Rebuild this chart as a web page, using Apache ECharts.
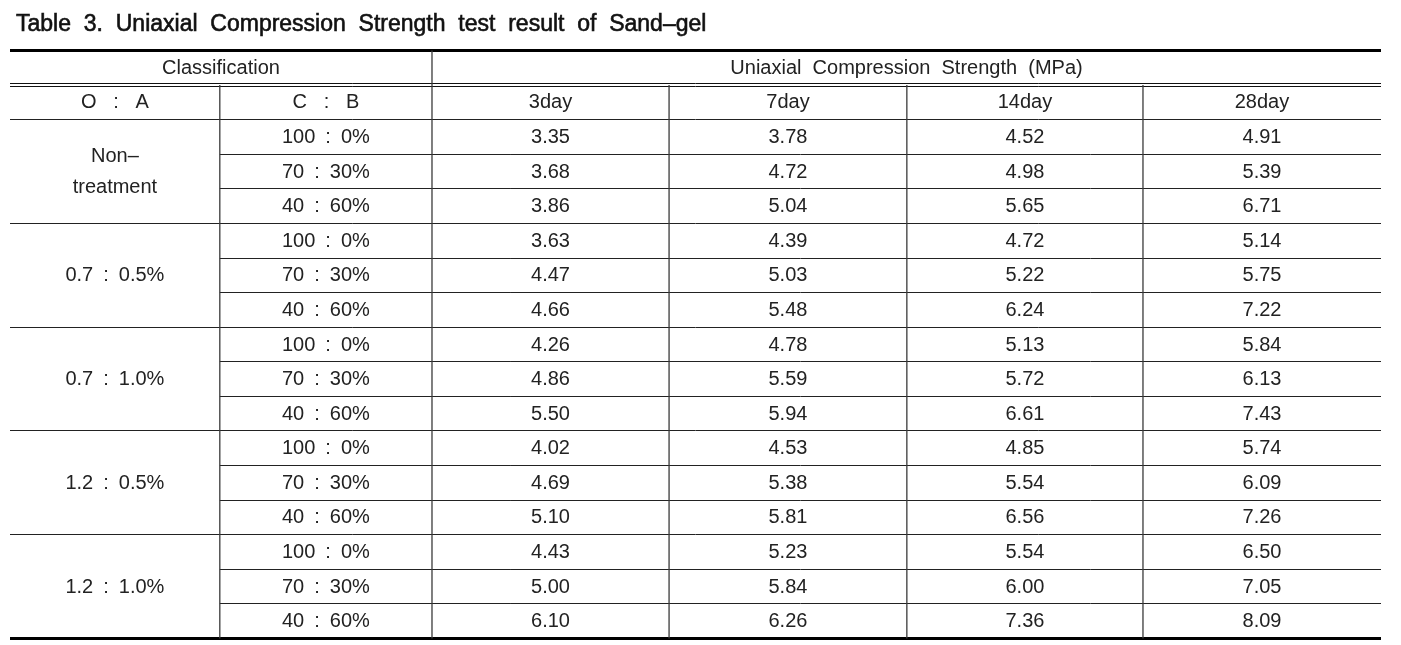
<!DOCTYPE html>
<html>
<head>
<meta charset="utf-8">
<script src="https://cdn.jsdelivr.net/npm/echarts@6/dist/echarts.min.js"></script>
<style>html,body{margin:0;padding:0;background:#fff}#chart{width:1401px;height:645px}</style>
</head>
<body>
<div id="chart"></div>
<script>
// ---------- data ----------
const tableTitle = 'Table  3.  Uniaxial  Compression  Strength  test  result  of  Sand–gel';
const headerTop = ['Classification', 'Uniaxial  Compression  Strength  (MPa)'];
const headerSub = ['O   :   A', 'C   :   B', '3day', '7day', '14day', '28day'];
const groups = ['Non–\ntreatment', '0.7\u2002:\u20020.5%', '0.7\u2002:\u20021.0%', '1.2\u2002:\u20020.5%', '1.2\u2002:\u20021.0%'];
const ratios = ['100\u2002:\u20020%', '70\u2002:\u200230%', '40\u2002:\u200260%'];
const day3  = [3.35, 3.68, 3.86, 3.63, 4.47, 4.66, 4.26, 4.86, 5.50, 4.02, 4.69, 5.10, 4.43, 5.00, 6.10];
const day7  = [3.78, 4.72, 5.04, 4.39, 5.03, 5.48, 4.78, 5.59, 5.94, 4.53, 5.38, 5.81, 5.23, 5.84, 6.26];
const day14 = [4.52, 4.98, 5.65, 4.72, 5.22, 6.24, 5.13, 5.72, 6.61, 4.85, 5.54, 6.56, 5.54, 6.00, 7.36];
const day28 = [4.91, 5.39, 6.71, 5.14, 5.75, 7.22, 5.84, 6.13, 7.43, 5.74, 6.09, 7.26, 6.50, 7.05, 8.09];

// ---------- layout (style only) ----------
const COL_WEIGHTS = [0.885, 0.895, 1, 1.003, 0.996, 1.004];
const FONT = 'Liberation Sans';
const edges = [0];
COL_WEIGHTS.forEach(w => edges.push(edges[edges.length - 1] + w));
const NCOL = COL_WEIGHTS.length;
const valueCols = [day3, day7, day14, day28];
const nData = day3.length;
const HEAD = 2;
const NROW = HEAD + nData;

// ---------- build cells ----------
const cells = [];
function cell(c0, c1, r0, r1, text) { cells.push({ c0, c1, r0, r1, text }); }
cell(0, 2, 0, 1, headerTop[0]);
cell(2, NCOL, 0, 1, headerTop[1]);
headerSub.forEach((t, i) => cell(i, i + 1, 1, 2, t));
groups.forEach((g, gi) => cell(0, 1, HEAD + gi * 3, HEAD + gi * 3 + 3, g));
for (let r = 0; r < nData; r++) {
  cell(1, 2, HEAD + r, HEAD + r + 1, ratios[r % 3]);
  valueCols.forEach((arr, ci) => cell(2 + ci, 3 + ci, HEAD + r, HEAD + r + 1, arr[r].toFixed(2)));
}

// ---------- build rules ----------
const LINE_KINDS = [
  { color: '#000', width: 3 },                 // 0 thick
  { color: '#111', width: 1, double: 1.8 },    // 1 double
  { color: '#222', width: 1 },                 // 2 thin horizontal
  { color: '#3a3a3a', width: 1.3 }             // 3 vertical
];
const rules = [];
rules.push([0, NCOL, 0, 0, 0]);
rules.push([0, NCOL, 1, 1, 1]);
rules.push([0, NCOL, 2, 2, 2]);
for (let r = 1; r < nData; r++) {
  const y = HEAD + r;
  rules.push([r % 3 === 0 ? 0 : 1, NCOL, y, y, 2]);
}
rules.push([0, NCOL, NROW, NROW, 0]);
for (let c = 1; c < NCOL; c++) {
  rules.push([c, c, c === 2 ? 0 : 1, NROW, 3]);
}

function snap(v, w) { return w <= 1.01 ? Math.round(v - 0.5) + 0.5 : v; }

const chart = echarts.init(document.getElementById('chart'), null, { renderer: 'canvas' });
chart.setOption({
  animation: false,
  backgroundColor: '#fff',
  title: {
    text: tableTitle, left: 11, top: 8,
    textStyle: {
      fontFamily: FONT, fontSize: 23, fontWeight: 'normal', color: '#111',
      textBorderColor: '#111', textBorderWidth: 0.6
    }
  },
  grid: { left: 10, right: 20, top: 50.5, bottom: 6.5 },
  xAxis: { type: 'value', min: 0, max: edges[NCOL], show: false },
  yAxis: { type: 'value', min: 0, max: NROW, inverse: true, show: false },
  series: [
    {
      type: 'custom',
      silent: true,
      data: rules.map(r => ({ value: [edges[r[0]], edges[r[1]], r[2], r[3], r[4]] })),
      encode: { x: [0, 1], y: [2, 3] },
      renderItem: function (params, api) {
        const p0 = api.coord([api.value(0), api.value(2)]);
        const p1 = api.coord([api.value(1), api.value(3)]);
        const k = LINE_KINDS[api.value(4)];
        const st = { stroke: k.color, lineWidth: k.width };
        if (k.double) {
          return {
            type: 'group',
            children: [-k.double, k.double].map(o => ({
              type: 'line',
              shape: { x1: p0[0], y1: snap(p0[1] + o, 1), x2: p1[0], y2: snap(p1[1] + o, 1) },
              style: st
            }))
          };
        }
        const vertical = p0[0] === p1[0];
        return {
          type: 'line',
          shape: vertical
            ? { x1: snap(p0[0], k.width), y1: p0[1], x2: snap(p1[0], k.width), y2: p1[1] }
            : { x1: p0[0], y1: snap(p0[1], k.width), x2: p1[0], y2: snap(p1[1], k.width) },
          style: st
        };
      }
    },
    {
      type: 'custom',
      silent: true,
      data: cells.map((c, i) => ({ value: [edges[c.c0], edges[c.c1], c.r0, c.r1, i] })),
      encode: { x: [0, 1], y: [2, 3] },
      renderItem: function (params, api) {
        const p0 = api.coord([api.value(0), api.value(2)]);
        const p1 = api.coord([api.value(1), api.value(3)]);
        const c = cells[api.value(4)];
        return {
          type: 'text',
          x: (p0[0] + p1[0]) / 2,
          y: (p0[1] + p1[1]) / 2 + 0.5,
          style: {
            text: c.text,
            align: 'center', verticalAlign: 'middle',
            textAlign: 'center', textVerticalAlign: 'middle',
            fontFamily: FONT, fontSize: 20, lineHeight: 31,
            fill: '#222'
          }
        };
      }
    }
  ]
});
</script>
</body>
</html>
